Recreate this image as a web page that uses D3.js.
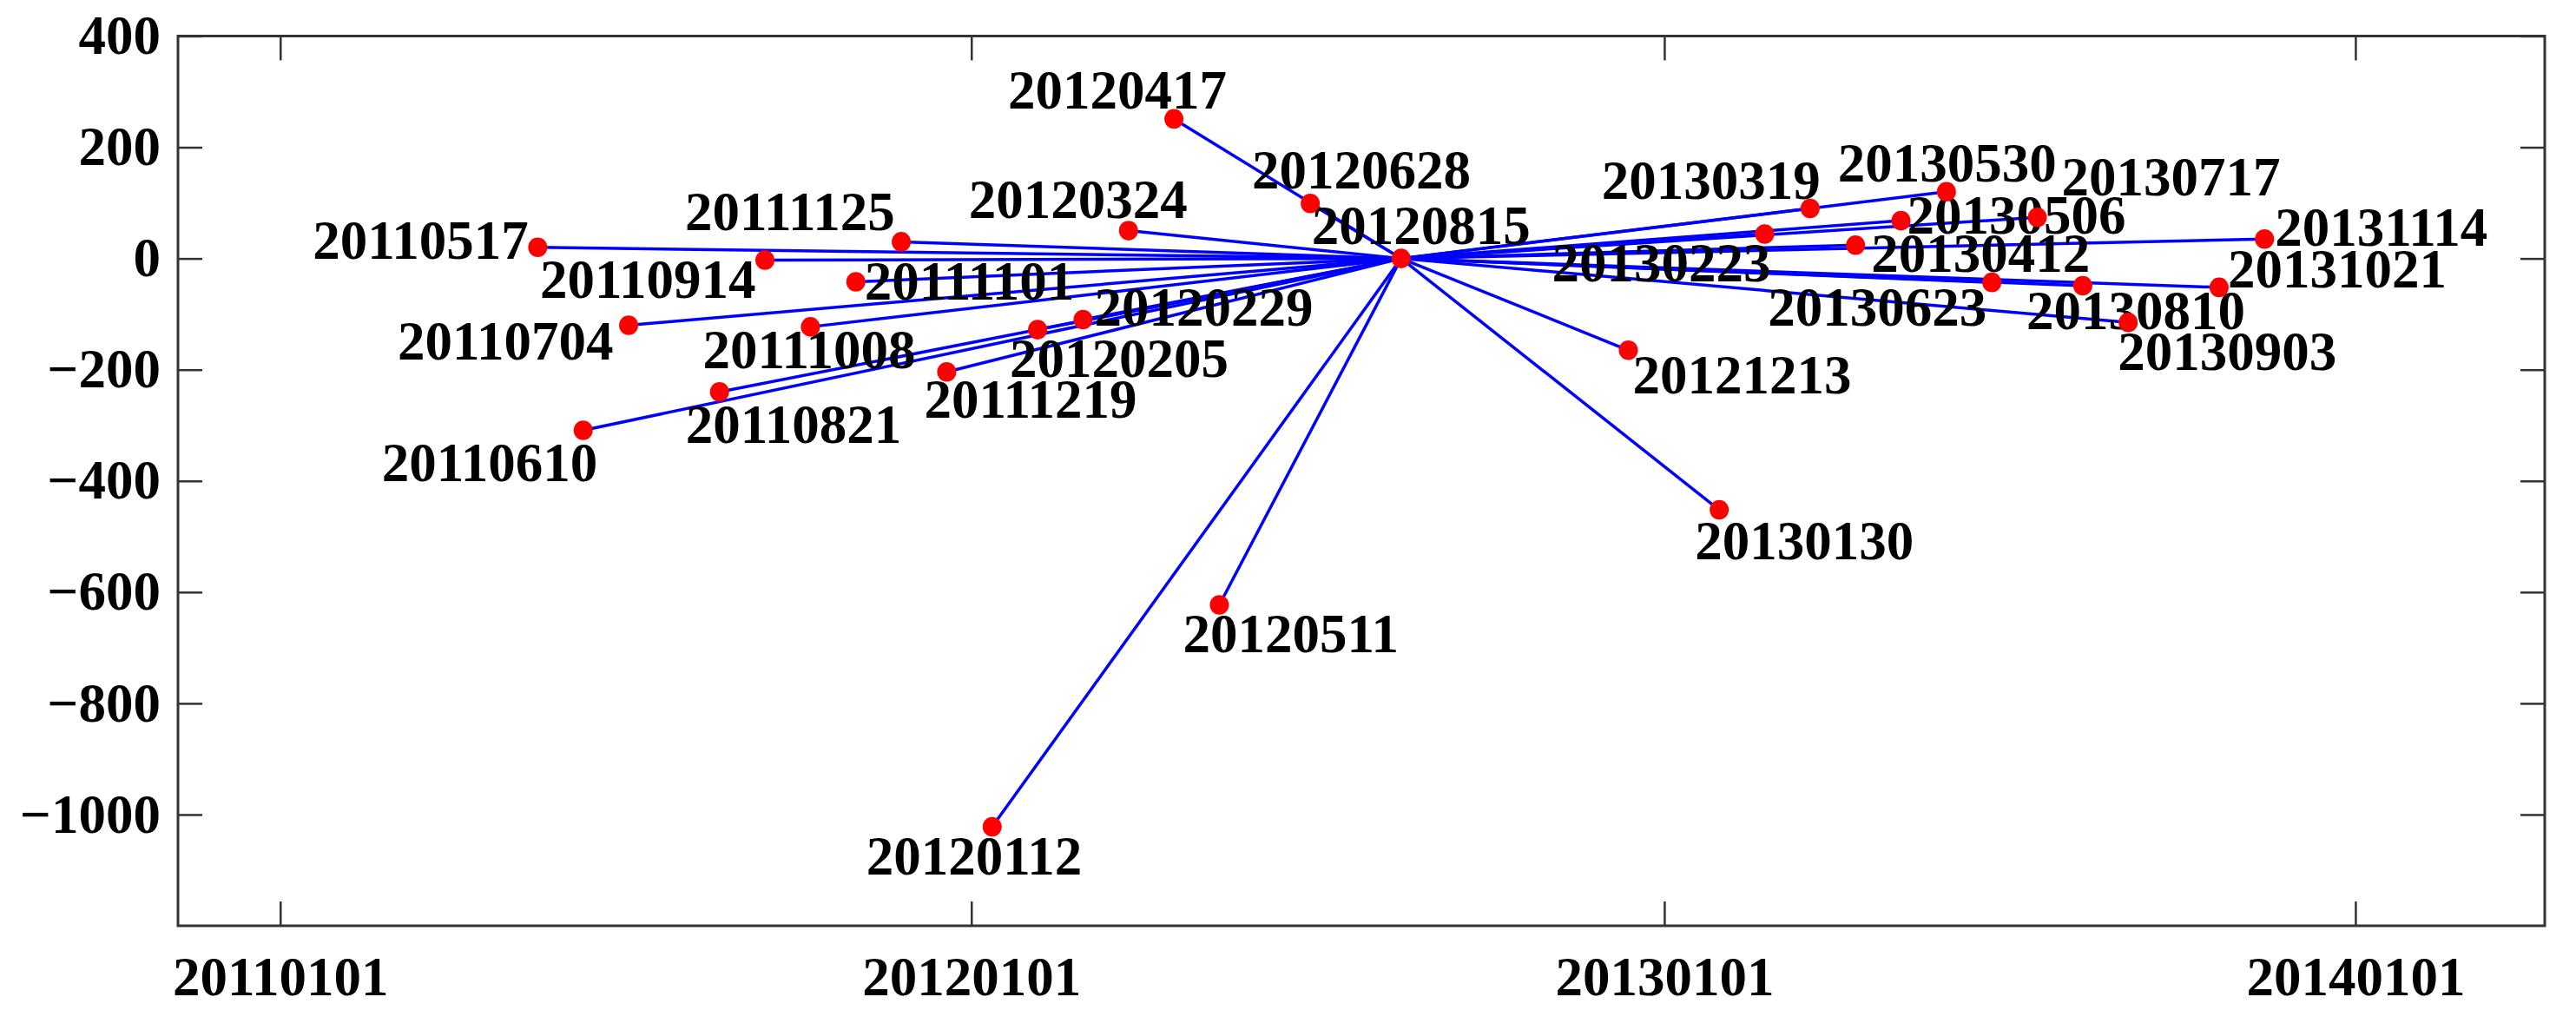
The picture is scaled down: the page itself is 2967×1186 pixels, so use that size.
<!DOCTYPE html>
<html>
<head>
<meta charset="utf-8">
<script src="https://cdn.jsdelivr.net/npm/d3@7"></script>
<style>
  html, body { margin: 0; padding: 0; background: #fff; }
  svg { display: block; }
  text { font-family: "Liberation Serif", "Times New Roman", serif; font-weight: bold; }
</style>
</head>
<body>
<script>
// ---- data ----
const dates = ["20110517","20110610","20110704","20110821","20110914","20111008","20111101","20111125",
               "20111219","20120112","20120205","20120229","20120324","20120417","20120511","20120628",
               "20120815","20121213","20130130","20130223","20130319","20130412","20130506","20130530",
               "20130623","20130717","20130810","20130903","20131021","20131114"];
const values = [20, -309, -120, -240, -3, -123, -42, 30,
                -204, -1022, -128, -110, 50, 251, -623, 99,
                0, -165, -452, 44, 90, 24, 68, 120,
                -43, 74, -49, -115, -52, 35];
const masterDate = "20120815";
const xTickLabels = ["20110101", "20120101", "20130101", "20140101"];
const yTickValues = [400, 200, 0, -200, -400, -600, -800, -1000];

// label placement (offset of text start / baseline from its point, px)
const labelOffsets = [[-259,13],[-232,59],[-266,40],[-39,59],[-259,43],[-124,48],[10,20],[-249,-13],
                      [-26,53],[-145,55],[-32,54],[13,7],[-184,-15],[-191,-12],[-42,54],[-67,-17],
                      [-103,-17],[5,50],[-28,57],[-245,55],[-240,-11],[18,31],[7,15],[-125,-12],
                      [-258,50],[28,-25],[-65,50],[-12,55],[10,0],[12,8]];

// ---- layout ----
const W = 2967, H = 1186;
const mLeft = 205, mRight = 2931, mTop = 41.5, mBottom = 1066;
const parse = d3.utcParse("%Y%m%d");

const x = d3.scaleUtc()
  .domain([parse("20101108"), parse("20140411")])
  .range([mLeft, mRight]);
const y = d3.scaleLinear().domain([-1200, 400]).range([mBottom, mTop]);

const svg = d3.select("body").append("svg").attr("width", W).attr("height", H);

const pts = dates.map((d, i) => ({ label: d, date: parse(d), v: values[i], off: labelOffsets[i] }));
const master = pts.find(p => p.label === masterDate);

const axisColor = "#333333";
const fontSize = 63;

// axes
const xTicks = xTickLabels.map(parse);
const gx = svg.append("g").attr("transform", `translate(0,${mBottom})`)
  .call(d3.axisBottom(x).tickValues(xTicks).tickSizeInner(-28).tickSizeOuter(0).tickPadding(35)
        .tickFormat(d3.utcFormat("%Y%m%d")));
const gxt = svg.append("g").attr("transform", `translate(0,${mTop})`)
  .call(d3.axisTop(x).tickValues(xTicks).tickSizeInner(-28).tickSizeOuter(0).tickFormat(""));
const gy = svg.append("g").attr("transform", `translate(${mLeft},0)`)
  .call(d3.axisLeft(y).tickValues(yTickValues).tickSizeInner(-28).tickSizeOuter(0).tickPadding(20)
        .tickFormat(d => d < 0 ? "\u2212" + Math.abs(d) : String(d)));
const gyr = svg.append("g").attr("transform", `translate(${mRight},0)`)
  .call(d3.axisRight(y).tickValues(yTickValues).tickSizeInner(-28).tickSizeOuter(0).tickFormat(""));

[gx, gxt, gy, gyr].forEach(g => {
  g.select(".domain").remove();
  g.selectAll(".tick line").attr("stroke", axisColor).attr("stroke-width", 2.5);
  g.selectAll(".tick text").attr("fill", "#000").attr("font-size", fontSize)
    .attr("font-family", "'Liberation Serif', 'Times New Roman', serif").attr("font-weight", "bold");
});

// frame
svg.append("rect").attr("x", mLeft).attr("y", mTop)
  .attr("width", mRight - mLeft).attr("height", mBottom - mTop)
  .attr("fill", "none").attr("stroke", axisColor).attr("stroke-width", 3);

// lines to master
svg.append("g").selectAll("line").data(pts.filter(p => p !== master)).join("line")
  .attr("x1", d => x(d.date)).attr("y1", d => y(d.v))
  .attr("x2", x(master.date)).attr("y2", y(master.v))
  .attr("stroke", "#0000ff").attr("stroke-width", 3.5);

// labels
svg.append("g").selectAll("text").data(pts).join("text")
  .attr("x", d => x(d.date) + d.off[0])
  .attr("y", d => y(d.v) + d.off[1])
  .attr("font-size", fontSize).attr("fill", "#000")
  .text(d => d.label);

// points
svg.append("g").selectAll("ellipse").data(pts).join("ellipse")
  .attr("cx", d => x(d.date)).attr("cy", d => y(d.v))
  .attr("rx", 11).attr("ry", 11.3)
  .attr("fill", "#ff0000");
</script>
</body>
</html>
